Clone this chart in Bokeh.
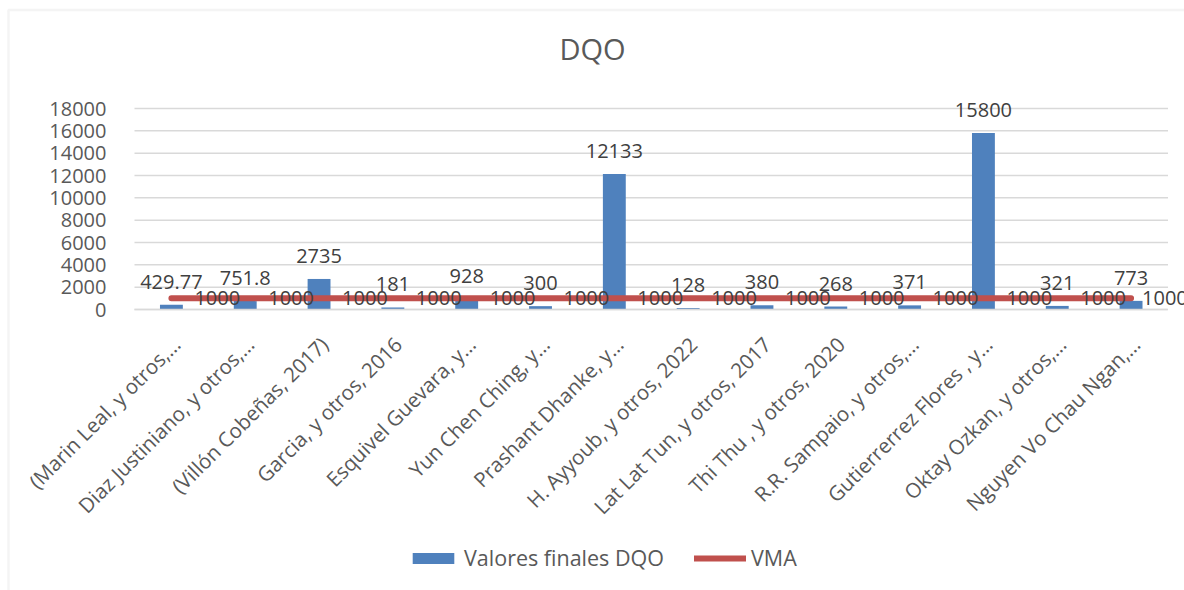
from math import pi
from bokeh.plotting import figure
from bokeh.core.properties import value
from bokeh.models import (ColumnDataSource, Range1d, FixedTicker, LabelSet,
                          Label, Legend, LegendItem, BoxAnnotation)
from bokeh.embed import file_html
from bokeh.resources import INLINE

categories = [
    "(Marin Leal, y otros,…",
    "Diaz Justiniano, y otros,…",
    "(Villón Cobeñas, 2017)",
    "Garcia, y otros, 2016",
    "Esquivel Guevara, y…",
    "Yun Chen Ching, y…",
    "Prashant Dhanke, y…",
    "H. Ayyoub, y otros, 2022",
    "Lat Lat Tun, y otros, 2017",
    "Thi Thu , y otros, 2020",
    "R.R. Sampaio, y otros,…",
    "Gutierrerrez Flores , y…",
    "Oktay Ozkan, y otros,…",
    "Nguyen Vo Chau Ngan,…",
]
dqo_values = [429.77, 751.8, 2735, 181, 928, 300, 12133, 128, 380, 268, 371, 15800, 321, 773]
vma_values = [1000, 1000, 1000, 1000, 1000, 1000, 1000, 1000, 1000, 1000, 1000, 1000, 1000, 1000]
y_ticks = [0, 2000, 4000, 6000, 8000, 10000, 12000, 14000, 16000, 18000]
title_text = "DQO"
series_names = ["Valores finales DQO", "VMA"]

FONT = "Open Sans"
BLUE = "#4F81BD"
RED = "#C0504D"
GRID = "#d9d9d9"
TXT = "#595959"
DATA_TXT = "#404040"

# ---- layout (pixels, canvas = page) ----
W, H = 1184, 590
PLOT_LEFT = 134.0          # pixel of the first category's left edge
CAT_PX = 73.82             # pixels per category
ZERO_Y = 309.0             # pixel row of y = 0
PX_PER_UNIT = 201.0 / 18000.0
LABEL_NUDGE = 5            # px: rotated category labels end a little right of centre

n = len(categories)
centers = [i + 0.5 for i in range(n)]
src = ColumnDataSource(dict(
    x=centers,
    dqo=dqo_values,
    vma=vma_values,
    dqo_text=[f"{v:g}" for v in dqo_values],
    vma_text=[f"{v:g}" for v in vma_values],
    vma_dx=[23] * (n - 1) + [11],
))


def xdata(px):
    return (px - PLOT_LEFT) / CAT_PX


def ydata(py):
    return (ZERO_Y - py) / PX_PER_UNIT


p = figure(x_range=Range1d(xdata(0), xdata(W)), y_range=Range1d(ydata(H), ydata(0)),
           width=W, height=H, output_backend="svg", toolbar_location=None,
           min_border_left=0, min_border_right=0, min_border_top=0,
           min_border_bottom=0)
p.outline_line_color = None
p.background_fill_color = "white"
p.border_fill_color = "white"
p.xgrid.grid_line_color = None
p.ygrid.grid_line_color = None

# chart-area border (top and left edges visible)
p.add_layout(BoxAnnotation(left=xdata(8), top=ydata(9.5), right=n + 5,
                           bottom=ydata(H + 50), fill_alpha=0,
                           line_color=GRID, line_width=2.5))

# horizontal gridlines at the value ticks
p.segment(x0=[0] * len(y_ticks), x1=[n] * len(y_ticks), y0=y_ticks, y1=y_ticks,
          line_color=GRID, line_width=1.5)

# y axis
p.yaxis.fixed_location = 0
p.yaxis.ticker = FixedTicker(ticks=y_ticks)
p.yaxis.axis_line_color = None
p.yaxis.major_tick_line_color = None
p.yaxis.minor_tick_line_color = None
p.yaxis.major_label_standoff = 22
p.yaxis.major_label_text_font = FONT
p.yaxis.major_label_text_font_size = "20px"
p.yaxis.major_label_text_color = TXT

# x axis (categories)
label_ticks = [round(c + LABEL_NUDGE / CAT_PX, 4) for c in centers]
p.xaxis.fixed_location = 0
p.xaxis.bounds = (0, n)
p.xaxis.ticker = FixedTicker(ticks=label_ticks, minor_ticks=[])
p.xaxis.major_label_overrides = {t: c for t, c in zip(label_ticks, categories)}
p.xaxis.axis_line_color = GRID
p.xaxis.axis_line_width = 1.5
p.xaxis.major_tick_line_color = None
p.xaxis.minor_tick_line_color = None
p.xaxis.major_label_orientation = pi / 4
p.xaxis.major_label_standoff = 25
p.xaxis.major_label_text_font = FONT
p.xaxis.major_label_text_font_size = "20.5px"
p.xaxis.major_label_text_color = TXT

bars = p.vbar(x="x", top="dqo", width=0.31, source=src,
              fill_color=BLUE, line_color=None)
line = p.line(x="x", y="vma", source=src, line_color=RED,
              line_width=6, line_cap="round")

p.add_layout(LabelSet(x="x", y="dqo", text="dqo_text", source=src,
                      text_align="center", text_baseline="alphabetic",
                      y_offset=16, text_font=value(FONT),
                      text_font_size=value("20px"), text_color=DATA_TXT))
p.add_layout(LabelSet(x="x", y="vma", text="vma_text", source=src,
                      x_offset="vma_dx", text_align="left",
                      text_baseline="middle", text_font=value(FONT),
                      text_font_size=value("20px"), text_color=DATA_TXT))

p.add_layout(Label(x=xdata(592), y=ydata(48), text=title_text,
                   text_align="center", text_baseline="middle",
                   text_font=FONT, text_font_size="29px", text_color=TXT))

legend = Legend(items=[LegendItem(label=series_names[0], renderers=[bars]),
                       LegendItem(label=series_names[1], renderers=[line])],
                orientation="horizontal", location=(407, 18),
                glyph_width=52, glyph_height=14, label_standoff=5, spacing=30,
                padding=0, margin=0, border_line_color=None,
                background_fill_alpha=0, label_text_font=FONT,
                label_text_font_size="21.5px", label_text_color=TXT)
p.add_layout(legend)

open("out.html", "w").write(file_html(p, INLINE))
